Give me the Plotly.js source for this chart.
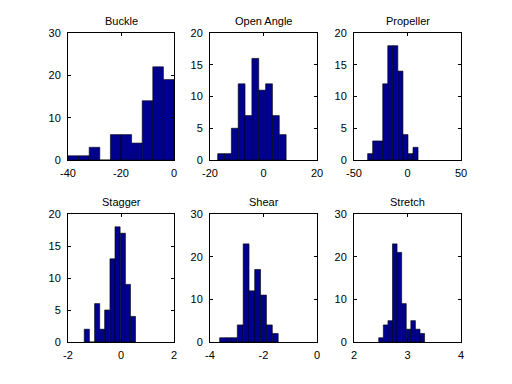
<!DOCTYPE html>
<html>
<head>
<meta charset="utf-8">
<script src="https://cdn.plot.ly/plotly-3.0.1.min.js"></script>
<style>html,body{margin:0;padding:0;background:#fff;}#chart{width:512px;height:384px;}</style>
</head>
<body>
<div id="chart"></div>
<script>
// ---- Data (bin centres, bin widths, counts) ----
const titles = ["Buckle", "Open Angle", "Propeller", "Stagger", "Shear", "Stretch"];

const buckleCenters = [-38, -34, -30, -26, -22, -18, -14, -10, -6, -2];
const buckleCounts  = [1, 1, 3, 0, 6, 6, 4, 14, 22, 19];
const buckleWidth = 4;

const openAngleCenters = [-15.86, -13.30, -10.74, -8.18, -5.62, -3.06, -0.50, 2.06, 4.62, 7.18];
const openAngleCounts  = [1, 1, 5, 12, 7, 16, 11, 12, 7, 4];
const openAngleWidth = 2.56;

const propellerCenters = [-34.9, -30.2, -25.5, -20.8, -16.1, -11.4, -6.6, -1.9, 2.8, 7.5];
const propellerCounts  = [1, 3, 3, 12, 18, 18, 14, 4, 1, 2];
const propellerWidth = 4.72;

const staggerCenters = [-1.29, -1.10, -0.90, -0.71, -0.52, -0.32, -0.13, 0.07, 0.26, 0.45];
const staggerCounts  = [2, 0, 6, 2, 5, 13, 18, 17, 9, 4];
const staggerWidth = 0.194;

const shearCenters = [-3.53, -3.31, -3.09, -2.87, -2.65, -2.43, -2.22, -2.00, -1.78, -1.56];
const shearCounts  = [1, 1, 1, 4, 23, 12, 17, 11, 4, 2];
const shearWidth = 0.219;

const stretchCenters = [2.505, 2.591, 2.677, 2.762, 2.848, 2.934, 3.019, 3.105, 3.191, 3.276];
const stretchCounts  = [1, 4, 5, 23, 21, 9, 3, 5, 3, 2];
const stretchWidth = 0.0857;

const xRanges = [[-40, 0], [-20, 20], [-50, 50], [-2, 2], [-4, 0], [2, 4]];
const xTicks  = [[-40, -20, 0], [-20, 0, 20], [-50, 0, 50], [-2, 0, 2], [-4, -2, 0], [2, 3, 4]];
const yRanges = [[0, 30], [0, 20], [0, 20], [0, 20], [0, 30], [0, 30]];
const yTicks  = [[0, 10, 20, 30], [0, 5, 10, 15, 20], [0, 5, 10, 15, 20], [0, 5, 10, 15, 20], [0, 10, 20, 30], [0, 10, 20, 30]];

// ---- Build ----
const series = [
  [buckleCenters, buckleCounts, buckleWidth],
  [openAngleCenters, openAngleCounts, openAngleWidth],
  [propellerCenters, propellerCounts, propellerWidth],
  [staggerCenters, staggerCounts, staggerWidth],
  [shearCenters, shearCounts, shearWidth],
  [stretchCenters, stretchCounts, stretchWidth]
];

const W = 512, H = 384;
const colPx = [[68, 174], [210, 317], [354, 461]];
const rowPx = [[33, 160], [214, 342]];

const font = {family: "Liberation Sans, Arial, Helvetica, sans-serif", size: 11, color: "#000"};
const data = [];
const layout = {
  width: W, height: H,
  margin: {l: 0, r: 0, t: 0, b: 0},
  paper_bgcolor: "#fff", plot_bgcolor: "#fff",
  showlegend: false,
  font: font,
  bargap: 0,
  annotations: []
};

series.forEach((s, i) => {
  const n = i + 1;
  const xa = n === 1 ? "x" : "x" + n;
  const ya = n === 1 ? "y" : "y" + n;
  data.push({
    type: "bar",
    x: s[0], y: s[1], width: s[2],
    xaxis: xa, yaxis: ya,
    marker: {color: "rgb(0,0,143)", line: {color: "#000", width: 0.6}},
    hoverinfo: "none"
  });
  const c = colPx[i % 3], r = rowPx[Math.floor(i / 3)];
  const common = {
    showline: true, linecolor: "#000", linewidth: 1, mirror: "ticks",
    ticks: "inside", ticklen: 3, tickcolor: "#000", tickwidth: 1,
    showgrid: false, zeroline: false, tickfont: font, fixedrange: true
  };
  layout["xaxis" + (n === 1 ? "" : n)] = Object.assign({}, common, {
    domain: [c[0] / W, c[1] / W], anchor: ya,
    range: xRanges[i], tickmode: "array", tickvals: xTicks[i],
    ticktext: xTicks[i].map(String), ticklabelstandoff: 3
  });
  layout["yaxis" + (n === 1 ? "" : n)] = Object.assign({}, common, {
    domain: [1 - r[1] / H, 1 - r[0] / H], anchor: xa,
    range: yRanges[i], tickmode: "array", tickvals: yTicks[i],
    ticktext: yTicks[i].map(String), ticklabelstandoff: 4
  });
  layout.annotations.push({
    text: titles[i], showarrow: false,
    xref: "paper", yref: "paper",
    x: (c[0] + c[1]) / 2 / W, y: 1 - (r[0] - 4) / H,
    xanchor: "center", yanchor: "bottom",
    font: font
  });
});

Plotly.newPlot("chart", data, layout, {staticPlot: true, displayModeBar: false});
</script>
</body>
</html>
